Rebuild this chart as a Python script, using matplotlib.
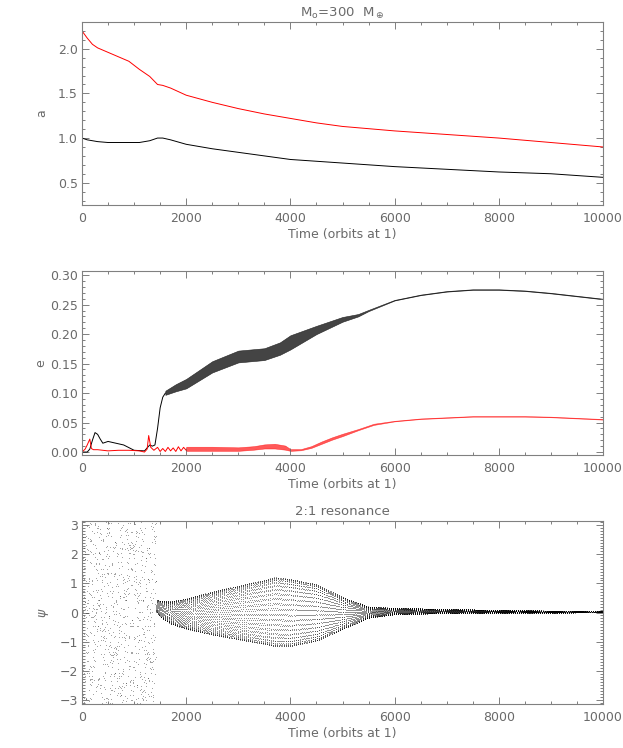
import numpy as np
import matplotlib
matplotlib.use("Agg")
from matplotlib import pyplot as plt
from matplotlib.ticker import MultipleLocator

# --- semi-major axis ---
a_time = [0, 100, 200, 300, 500, 700, 900, 1100, 1300, 1350, 1450, 1550, 1700,
          2000, 2500, 3000, 3500, 4000, 4500, 5000, 6000, 7000, 8000, 9000, 10000]
a_outer = [2.20, 2.12, 2.05, 2.01, 1.96, 1.91, 1.86, 1.77, 1.69, 1.66, 1.60, 1.59, 1.56,
           1.48, 1.40, 1.33, 1.27, 1.22, 1.17, 1.13, 1.08, 1.04, 1.00, 0.95, 0.90]
a_inner = [1.00, 0.98, 0.97, 0.96, 0.95, 0.95, 0.95, 0.95, 0.97, 0.98, 1.00, 1.00, 0.98,
           0.93, 0.88, 0.84, 0.80, 0.76, 0.74, 0.72, 0.68, 0.65, 0.62, 0.60, 0.56]

# --- eccentricities (middle panel) ---
e_in_time = [0, 100, 150, 200, 250, 300, 350, 400, 500, 600, 800, 1000, 1200, 1300,
             1350, 1400, 1450, 1500, 1550, 1600]
e_in = [0.0, 0.0, 0.005, 0.02, 0.033, 0.030, 0.022, 0.015, 0.018, 0.016, 0.012, 0.003,
        0.002, 0.012, 0.010, 0.012, 0.04, 0.075, 0.093, 0.100]
# oscillating part: lower / upper edge of the band
e_band_time = [1600, 1800, 2000, 2500, 3000, 3500, 3800, 4000, 4500, 5000, 5300, 5500,
               6000, 6500, 7000, 7500, 8000, 8500, 9000, 9500, 10000]
e_band_lo = [0.097, 0.103, 0.108, 0.135, 0.152, 0.156, 0.165, 0.174, 0.200, 0.221, 0.230,
             0.239, 0.257, 0.266, 0.272, 0.275, 0.275, 0.273, 0.269, 0.264, 0.259]
e_band_hi = [0.104, 0.115, 0.124, 0.154, 0.172, 0.176, 0.186, 0.198, 0.214, 0.229, 0.234,
             0.241, 0.258, 0.267, 0.273, 0.276, 0.276, 0.274, 0.270, 0.265, 0.260]

e_out_time = [0, 60, 100, 150, 180, 220, 300, 400, 500, 700, 900, 1100, 1200, 1250, 1280,
              1320, 1380, 1450, 1500, 1550, 1600, 1650, 1700, 1750, 1800, 1850, 1900, 1950, 2000]
e_out = [0.0, 0.005, 0.012, 0.022, 0.006, 0.004, 0.004, 0.003, 0.002, 0.003, 0.003, 0.002,
         0.0, 0.005, 0.028, 0.008, 0.003, 0.008, 0.001, 0.006, 0.001, 0.008, 0.002, 0.007,
         0.001, 0.009, 0.002, 0.008, 0.003]
eo_band_time = [2000, 2500, 3000, 3300, 3500, 3700, 3900, 4000, 4200, 4400, 4600, 4800,
                5000, 5300, 5600, 6000, 6500, 7000, 7500, 8000, 8500, 9000, 9500, 10000]
eo_band_lo = [0.002, 0.002, 0.002, 0.004, 0.006, 0.006, 0.004, 0.002, 0.003, 0.007, 0.014,
              0.021, 0.027, 0.037, 0.046, 0.052, 0.056, 0.058, 0.060, 0.060, 0.060, 0.059,
              0.057, 0.055]
eo_band_hi = [0.009, 0.009, 0.008, 0.010, 0.013, 0.014, 0.011, 0.005, 0.005, 0.010, 0.018,
              0.025, 0.031, 0.039, 0.048, 0.053, 0.057, 0.059, 0.061, 0.061, 0.061, 0.060,
              0.058, 0.056]

# --- resonant angle (bottom panel) ---
psi_time = [1420, 1500, 1700, 2000, 2500, 3000, 3500, 3700, 4000, 4500, 5000, 5500,
            6000, 7000, 8000, 9000, 10000]
psi_center = [0.25, 0.12, 0.0, -0.04, -0.02, 0.0, 0.02, 0.03, 0.0, 0.0, -0.02, 0.01,
              0.05, 0.05, 0.04, 0.03, 0.03]
psi_amp = [0.20, 0.28, 0.38, 0.52, 0.74, 0.92, 1.10, 1.18, 1.15, 0.97, 0.55, 0.19,
           0.11, 0.07, 0.05, 0.035, 0.025]
chaos_end = 1420
out_step = 1.0        # output interval (orbits)
lib_period = 39.996   # libration period (orbits)

GREY = "#6a6a6a"
plt.rcParams.update({"font.family": "DejaVu Sans", "font.size": 9,
                     "text.color": GREY, "axes.labelcolor": GREY,
                     "xtick.color": GREY, "ytick.color": GREY,
                     "axes.edgecolor": "#808080", "axes.linewidth": 0.8})

fig = plt.figure(figsize=(6.23, 7.48), dpi=100)
W = 603 - 82
ax1 = fig.add_axes([82 / 623, 1 - 205 / 748, W / 623, 183 / 748])
ax2 = fig.add_axes([82 / 623, 1 - 455 / 748, W / 623, 184 / 748])
ax3 = fig.add_axes([82 / 623, 1 - 704 / 748, W / 623, 183 / 748])


def idl_style(ax, ymaj, ymin):
    ax.set_xlim(0, 10000)
    ax.xaxis.set_major_locator(MultipleLocator(2000))
    ax.xaxis.set_minor_locator(MultipleLocator(500))
    ax.yaxis.set_major_locator(MultipleLocator(ymaj))
    ax.yaxis.set_minor_locator(MultipleLocator(ymin))
    ax.tick_params(which="both", direction="in", top=True, right=True, width=0.6)
    ax.tick_params(which="major", length=5)
    ax.tick_params(which="minor", length=2.5)
    ax.tick_params(axis="x", pad=5)
    ax.tick_params(axis="y", pad=3)
    ax.set_xlabel("Time (orbits at 1)", labelpad=2)


# top: a
ax1.plot(a_time, a_outer, color="red", lw=0.7)
ax1.plot(a_time, a_inner, color="black", lw=0.7)
ax1.set_ylim(0.25, 2.3)
idl_style(ax1, 0.5, 0.1)
ax1.yaxis.set_major_formatter(lambda v, p: f"{v:.1f}")
ax1.set_ylabel("a")
ax1.yaxis.set_label_coords(-0.065, 0.5)
ax1.set_title(r"M$_\mathrm{o}$=300  M$_\oplus$", fontsize=9.5, pad=4, color=GREY)

# middle: e
ax2.plot(e_in_time, e_in, color="black", lw=0.7)
ax2.fill_between(e_band_time, e_band_lo, e_band_hi, color="#444444", lw=0.4,
                 edgecolor="#222222")
ax2.plot(e_out_time, e_out, color="red", lw=0.7)
ax2.fill_between(eo_band_time, eo_band_lo, eo_band_hi, color="red", lw=0.4, alpha=0.65,
                 edgecolor="red")
ax2.set_ylim(-0.005, 0.307)
idl_style(ax2, 0.05, 0.01)
ax2.yaxis.set_major_formatter(lambda v, p: f"{v:.2f}")
ax2.set_ylabel("e")
ax2.yaxis.set_label_coords(-0.067, 0.5)

# bottom: psi
# circulating phase before capture (quadratic Weyl sequence, no random numbers)
k = np.arange(0, int(chaos_end / 1.6))
t_chaos = k * 1.6
psi_chaos = ((k * k * np.sqrt(2) + k * 0.5) % 1.0) * 2 * np.pi - np.pi
ax3.plot(t_chaos, psi_chaos, ".", ms=1.1, color="#303030", alpha=0.55, mew=0)

t_lib = np.arange(chaos_end, 10000, out_step)
cen = np.interp(t_lib, psi_time, psi_center)
amp = np.interp(t_lib, psi_time, psi_amp)
psi_lib = cen + amp * np.sin(2 * np.pi * t_lib / lib_period)
ax3.plot(t_lib, psi_lib, ".", ms=0.9, color="black", mew=0, alpha=0.8)

ax3.set_ylim(-np.pi, np.pi)
idl_style(ax3, 1, 0.1)
ax3.set_ylabel(r"$\psi$")
ax3.yaxis.set_label_coords(-0.06, 0.5)
ax3.set_title("2:1 resonance", fontsize=9.5, pad=4, color=GREY)

fig.savefig("out.png", dpi=100)
